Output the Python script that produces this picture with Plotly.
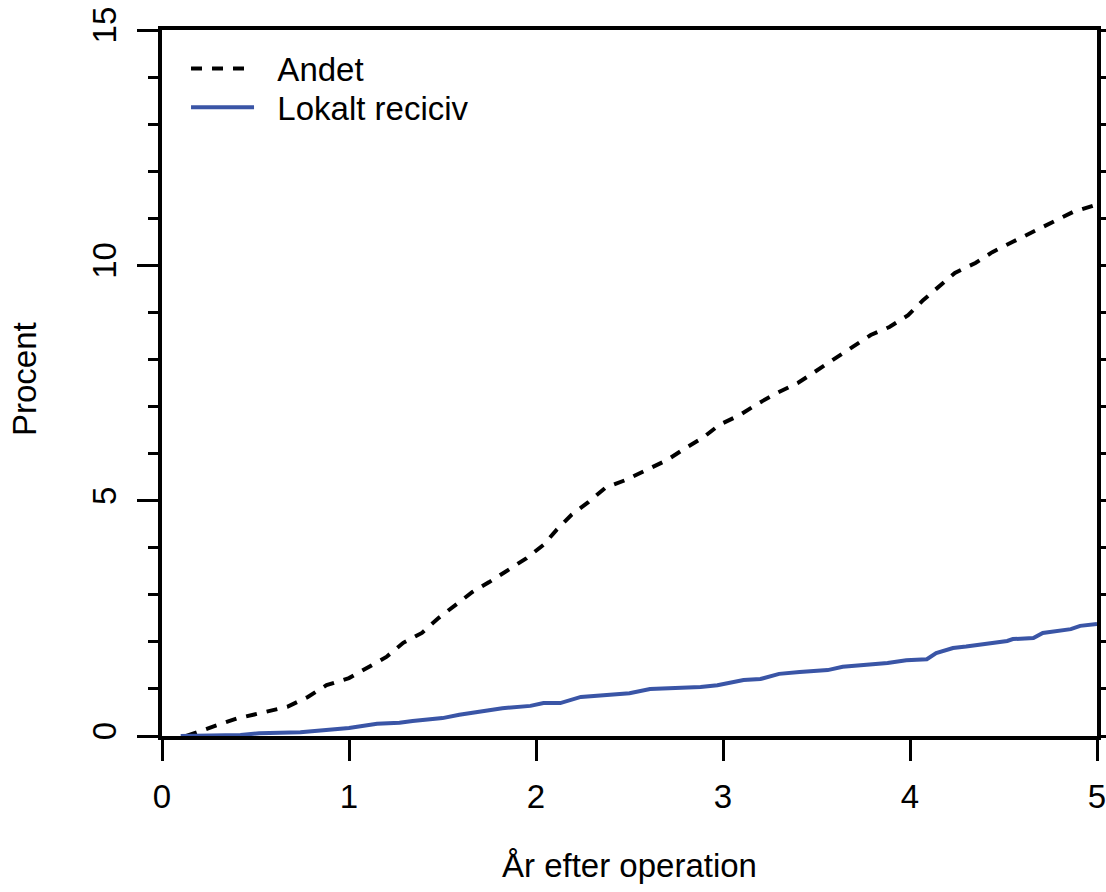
import plotly.graph_objects as go

# ---- data ----
years_andet = [0.13, 0.17, 0.28, 0.40, 0.54, 0.67, 0.78, 0.88, 1.00, 1.10, 1.20, 1.29, 1.39,
               1.48, 1.57, 1.66, 1.75, 1.85, 1.95, 2.04, 2.11, 2.19, 2.28, 2.37, 2.48, 2.59,
               2.70, 2.80, 2.89, 2.98, 3.09, 3.19, 3.29, 3.40, 3.49, 3.59, 3.69, 3.79, 3.89,
               3.99, 4.07, 4.15, 4.24, 4.35, 4.44, 4.55, 4.66, 4.76, 4.87, 4.99, 5.00]
pct_andet = [0.00, 0.06, 0.21, 0.37, 0.51, 0.62, 0.83, 1.08, 1.23, 1.45, 1.68, 1.98, 2.19,
             2.51, 2.78, 3.06, 3.27, 3.53, 3.78, 4.06, 4.38, 4.70, 4.97, 5.27, 5.44, 5.65,
             5.86, 6.12, 6.33, 6.61, 6.82, 7.07, 7.29, 7.50, 7.73, 7.99, 8.24, 8.52, 8.69,
             8.94, 9.26, 9.54, 9.84, 10.05, 10.28, 10.50, 10.71, 10.92, 11.13, 11.28, 11.38]

years_lokalt = [0.10, 0.30, 0.42, 0.52, 0.74, 1.00, 1.15, 1.27, 1.34, 1.50, 1.59, 1.82, 1.97,
                2.04, 2.13, 2.24, 2.31, 2.50, 2.61, 2.88, 2.97, 3.11, 3.20, 3.30, 3.41, 3.56,
                3.64, 3.79, 3.88, 3.98, 4.09, 4.14, 4.23, 4.30, 4.44, 4.52, 4.55, 4.66, 4.71,
                4.78, 4.86, 4.91, 5.00]
pct_lokalt = [0.00, 0.00, 0.02, 0.06, 0.08, 0.17, 0.26, 0.28, 0.32, 0.38, 0.45, 0.59, 0.64,
              0.70, 0.70, 0.83, 0.85, 0.91, 1.00, 1.04, 1.08, 1.19, 1.21, 1.32, 1.36, 1.40,
              1.47, 1.51, 1.55, 1.61, 1.63, 1.76, 1.87, 1.90, 1.98, 2.02, 2.06, 2.08, 2.19,
              2.23, 2.27, 2.34, 2.38]

series_names = ["Andet", "Lokalt reciciv"]
x_ticks = [0, 1, 2, 3, 4, 5]
y_ticks = [0, 5, 10, 15]
x_title = "År efter operation"
y_title = "Procent"

FONT = "Liberation Sans, Arial, Helvetica, sans-serif"
BLUE = "#3a55a6"
FS = 33
PAD = "\u00a0\u00a0"

fig = go.Figure()
fig.add_trace(go.Scatter(x=years_andet, y=pct_andet, mode="lines", name=PAD + series_names[0],
                         legend="legend",
                         line=dict(color="black", width=4, dash="11px,10px")))
fig.add_trace(go.Scatter(x=years_lokalt, y=pct_lokalt, mode="lines", name=PAD + series_names[1],
                         legend="legend2",
                         line=dict(color=BLUE, width=4)))

leg_common = dict(xanchor="left", yanchor="top", bgcolor="rgba(0,0,0,0)",
                  font=dict(size=FS), itemwidth=63, tracegroupgap=0)

fig.update_layout(
    width=1106, height=892,
    margin=dict(l=162, r=9, t=30, b=156, autoexpand=False),
    paper_bgcolor="white", plot_bgcolor="white",
    font=dict(family=FONT, size=FS, color="black"),
    showlegend=True,
    legend=dict(x=0.0257, y=0.985, **leg_common),
    legend2=dict(x=0.0257, y=0.930, **leg_common),
    xaxis=dict(range=[0, 5], tickvals=x_ticks, showgrid=False, zeroline=False,
               showline=True, linewidth=4, linecolor="black", mirror=True,
               ticks="outside", ticklen=21, tickwidth=3, tickcolor="black",
               tickfont=dict(size=FS), ticklabelstandoff=7,
               ticklabeloverflow="allow", automargin=False),
    yaxis=dict(range=[0, 15], tickvals=y_ticks, showgrid=False, zeroline=False,
               showline=True, linewidth=4, linecolor="black", mirror="ticks",
               ticks="outside", ticklen=21, tickwidth=3, tickcolor="black",
               tickangle=-90, tickfont=dict(size=FS), ticklabelstandoff=8,
               ticklabeloverflow="allow", automargin=False,
               minor=dict(dtick=1, ticklen=10, tickwidth=3, ticks="outside",
                          tickcolor="black", showgrid=False)),
    annotations=[
        dict(text=x_title, xref="paper", yref="paper", x=0.5, y=-0.184,
             xanchor="center", yanchor="middle", showarrow=False,
             font=dict(size=FS)),
        dict(text=y_title, xref="paper", yref="paper", x=-0.1465, y=0.5057,
             xanchor="center", yanchor="middle", showarrow=False, textangle=-90,
             font=dict(size=FS)),
    ],
)

fig.write_html("out.html")
